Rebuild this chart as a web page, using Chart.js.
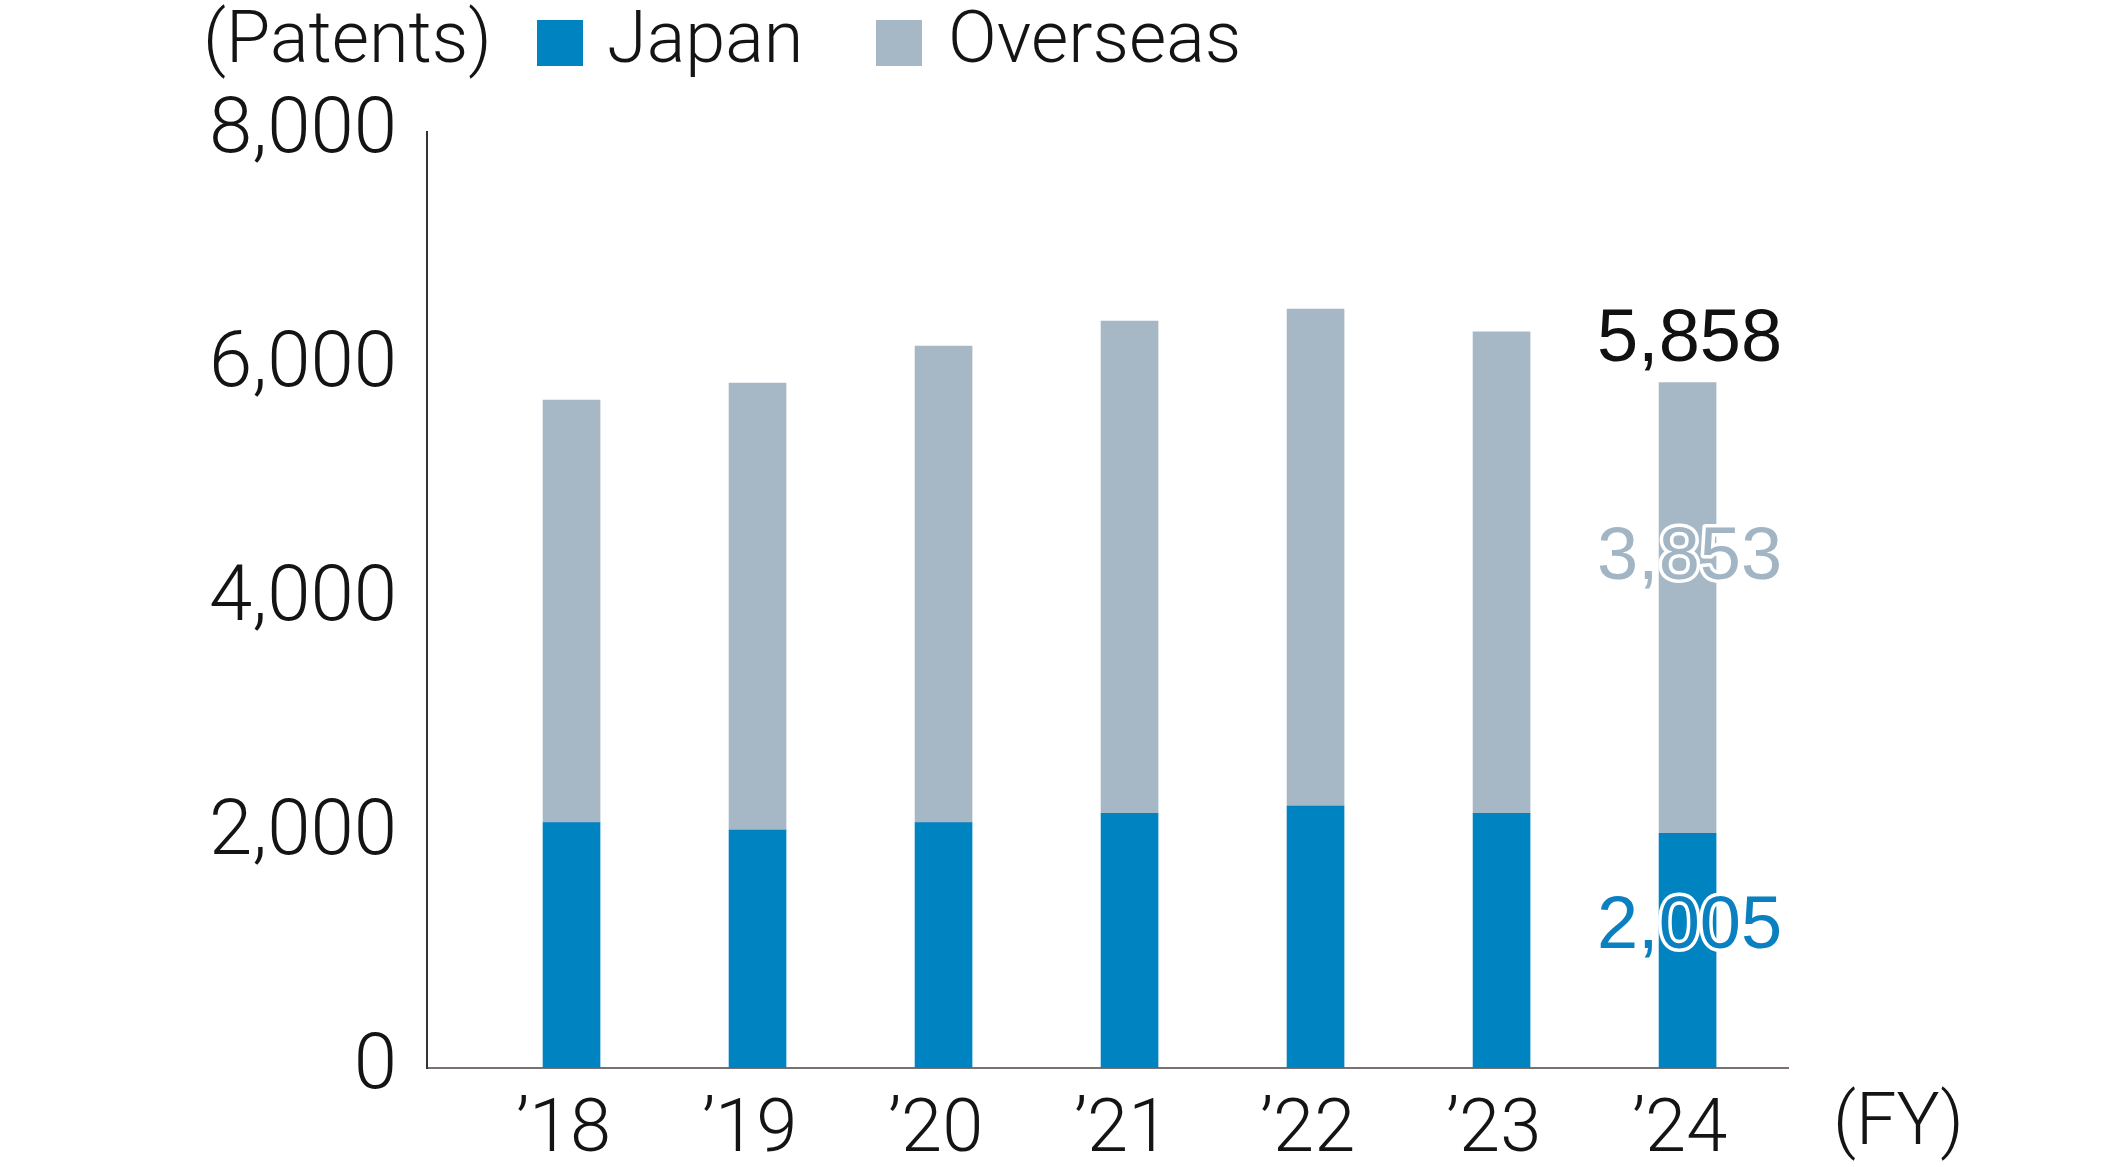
<!DOCTYPE html>
<html>
<head>
<meta charset="utf-8">
<script src="https://cdn.jsdelivr.net/npm/chart.js@4.4.1/dist/chart.umd.min.js"></script>
<style>
  html, body { margin: 0; padding: 0; background: #ffffff; }
  #wrap { width: 2124px; height: 1167px; }
</style>
</head>
<body>
<div id="wrap"><canvas id="c" width="2124" height="1167"></canvas></div>
<script>
// ---- data ----
const categories = ['\u201918', '\u201919', '\u201920', '\u201921', '\u201922', '\u201923', '\u201924'];
const japan    = [2097, 2034, 2097, 2177, 2239, 2177, 2005];
const overseas = [3612, 3821, 4074, 4208, 4248, 4114, 3853];
const yTicks   = [0, 2000, 4000, 6000, 8000];
const seriesNames = ['Japan', 'Overseas'];
const unitLabel = '(Patents)';
const xUnitLabel = '(FY)';

// ---- styles ----
const JP_COLOR = '#0083c1';
const OV_COLOR = '#a6b8c6';
const TEXT = '#141414';
const LIGHT_FONT = 'Roboto, "Liberation Sans", Arial, sans-serif';
const LABEL_FONT = '"Liberation Sans", Arial, Helvetica, sans-serif';

const fmt = v => v.toLocaleString('en-US');

const decorPlugin = {
  id: 'decor',
  afterDraw(chart) {
    const ctx = chart.ctx;
    ctx.save();
    // legend row
    ctx.fillStyle = TEXT;
    ctx.font = '300 72px ' + LIGHT_FONT;
    ctx.textBaseline = 'alphabetic';
    ctx.textAlign = 'left';
    ctx.fillText(unitLabel, 203, 62);
    const items = [
      { box: 537, text: 607, color: chart.data.datasets[0].backgroundColor, label: chart.data.datasets[0].label },
      { box: 876, text: 948, color: chart.data.datasets[1].backgroundColor, label: chart.data.datasets[1].label }
    ];
    items.forEach(it => {
      ctx.fillStyle = it.color;
      ctx.fillRect(it.box, 20, 46, 46);
      ctx.fillStyle = TEXT;
      ctx.fillText(it.label, it.text, 62);
    });
    // (FY)
    ctx.font = '300 72px ' + LIGHT_FONT;
    ctx.textBaseline = 'middle';
    ctx.fillText(xUnitLabel, 1833, 1126);

    // value labels for the latest year
    const last = categories.length - 1;
    const jp = chart.getDatasetMeta(0).data[last];
    const ov = chart.getDatasetMeta(1).data[last];
    ctx.textAlign = 'center';
    ctx.textBaseline = 'middle';
    ctx.font = '400 74px ' + LABEL_FONT;
    ctx.lineJoin = 'round';
    // total
    ctx.fillStyle = '#111111';
    ctx.fillText(fmt(japan[last] + overseas[last]), ov.x + 2, ov.y - 42);
    // overseas
    const oy = ov.y + 0.39 * (ov.base - ov.y);
    ctx.lineWidth = 7;
    ctx.strokeStyle = '#ffffff';
    ctx.strokeText(fmt(overseas[last]), ov.x + 2, oy);
    ctx.fillStyle = '#a2b5c4';
    ctx.fillText(fmt(overseas[last]), ov.x + 2, oy);
    // japan
    const jy = jp.y + 0.40 * (jp.base - jp.y);
    ctx.strokeText(fmt(japan[last]), jp.x + 2, jy);
    ctx.fillStyle = '#0a80c0';
    ctx.fillText(fmt(japan[last]), jp.x + 2, jy);
    ctx.restore();
  }
};

new Chart(document.getElementById('c'), {
  type: 'bar',
  data: {
    datasets: [
      {
        label: seriesNames[0],
        data: japan.map((v, i) => ({ x: i, y: v })),
        backgroundColor: JP_COLOR,
        barThickness: 57,
        borderWidth: 0
      },
      {
        label: seriesNames[1],
        data: overseas.map((v, i) => ({ x: i, y: v })),
        backgroundColor: OV_COLOR,
        barThickness: 57,
        borderWidth: 0
      }
    ]
  },
  options: {
    responsive: false,
    devicePixelRatio: 1,
    animation: false,
    layout: { padding: { left: 0, top: 132, right: 336, bottom: 0 } },
    plugins: {
      legend: { display: false },
      tooltip: { enabled: false }
    },
    scales: {
      x: {
        type: 'linear',
        stacked: true,
        offset: false,
        min: -0.777,
        max: 6.54,
        grid: { display: false, drawTicks: false, offset: false },
        border: { display: true, color: '#7a7272', width: 2 },
        afterBuildTicks: s => { s.ticks = categories.map((_, i) => ({ value: i })); },
        afterFit: s => { s.height = 99; },
        ticks: {
          autoSkip: false,
          maxRotation: 0,
          padding: 20,
          labelOffset: -8,
          color: TEXT,
          font: { family: LIGHT_FONT, size: 74, weight: '300' },
          callback: v => categories[v]
        }
      },
      y: {
        stacked: true,
        min: 0,
        max: 8000,
        grid: { display: false, drawTicks: false },
        border: { display: true, color: '#333333', width: 2 },
        afterBuildTicks: s => { s.ticks = yTicks.map(v => ({ value: v })); },
        afterFit: s => { s.width = 427; },
        ticks: {
          padding: 30,
          color: TEXT,
          font: { family: LIGHT_FONT, size: 78, weight: '300' },
          callback: v => fmt(v)
        }
      }
    }
  },
  plugins: [decorPlugin]
});
</script>
</body>
</html>
